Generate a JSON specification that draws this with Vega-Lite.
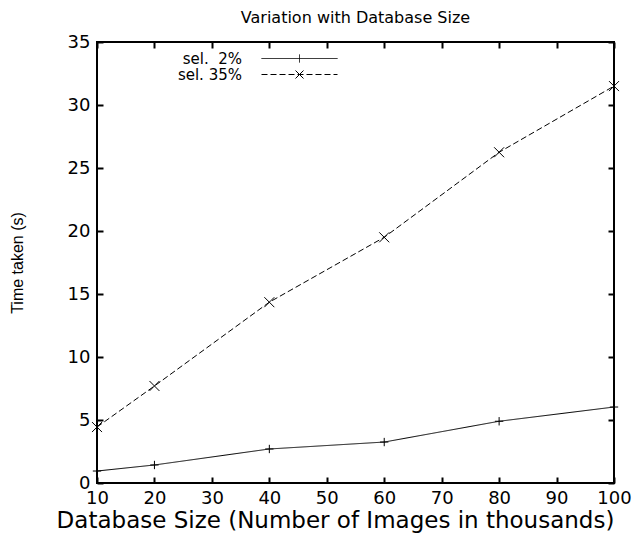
{
  "$schema": "https://vega.github.io/schema/vega-lite/v6.json",
  "width": 517,
  "height": 441,
  "autosize": "none",
  "padding": {"left": 97, "top": 42, "right": 18, "bottom": 51},
  "background": "white",
  "title": {"text": "Variation with Database Size", "font": "DejaVu Sans", "fontSize": 16, "fontWeight": "normal", "color": "black", "offset": 7},
  "data": {"values": [
    {"series": "sel. \u00a02%", "size": 10, "time": 0.95},
    {"series": "sel. \u00a02%", "size": 20, "time": 1.43},
    {"series": "sel. \u00a02%", "size": 40, "time": 2.7},
    {"series": "sel. \u00a02%", "size": 60, "time": 3.25},
    {"series": "sel. \u00a02%", "size": 80, "time": 4.9},
    {"series": "sel. \u00a02%", "size": 100, "time": 6.03},
    {"series": "sel. 35%", "size": 10, "time": 4.44},
    {"series": "sel. 35%", "size": 20, "time": 7.7},
    {"series": "sel. 35%", "size": 40, "time": 14.35},
    {"series": "sel. 35%", "size": 60, "time": 19.5},
    {"series": "sel. 35%", "size": 80, "time": 26.25},
    {"series": "sel. 35%", "size": 100, "time": 31.5}
  ]},
  "config": {
    "view": {"stroke": "black", "strokeWidth": 2},
    "axis": {"domain": false, "grid": false, "tickSize": -6, "tickWidth": 2, "tickColor": "black", "labelFont": "DejaVu Sans", "labelFontSize": 18, "labelColor": "black", "titleColor": "black", "titleFontWeight": "normal", "labelFlush": false},
    "legend": {"orient": "none", "legendX": 195, "legendY": 9, "padding": 0, "labelAlign": "right", "labelOffset": -65, "labelFont": "DejaVu Sans", "labelFontSize": 15, "labelColor": "black", "symbolSize": 100, "symbolStrokeWidth": 1, "symbolStrokeColor": "black", "symbolFillColor": "transparent", "rowPadding": -5}
  },
  "layer": [
    {
      "mark": {"type": "line", "color": "black", "strokeWidth": 1},
      "encoding": {
        "x": {"field": "size", "type": "quantitative", "scale": {"domain": [10, 100], "nice": false, "zero": false},
          "axis": {"orient": "bottom", "values": [10, 20, 30, 40, 50, 60, 70, 80, 90, 100], "title": "Database Size (Number of Images in thousands)", "titleFont": "DejaVu Sans", "titleFontSize": 23, "titleX": 238, "labelPadding": 12, "titlePadding": 2}},
        "y": {"field": "time", "type": "quantitative", "scale": {"domain": [0, 35], "nice": false},
          "axis": {"orient": "left", "values": [0, 5, 10, 15, 20, 25, 30, 35], "title": "Time taken (s)", "titleFont": "Liberation Sans", "titleFontSize": 16, "labelPadding": 13, "titlePadding": 42}},
        "strokeDash": {"field": "series", "type": "nominal", "scale": {"domain": ["sel. \u00a02%", "sel. 35%"], "range": [[1, 0], [6, 3]]},
          "legend": {"title": null, "encode": {"symbols": {"update": {"shape": {"signal": "datum.value === 'sel. 35%' ? 'M-7.6,0L7.6,0M0,0L0.8,0.8M0,0L-0.8,0.8M0,0L0.8,-0.8M0,0L-0.8,-0.8' : 'M-7.6,0L7.6,0M0,-0.8L0,0.8'"}}}}}}
      }
    },
    {
      "transform": [{"filter": "datum.series !== 'sel. 35%'"}],
      "mark": {"type": "point", "shape": "M-1,0H1M0,-1V1", "filled": false, "stroke": "black", "strokeWidth": 1, "size": 70, "opacity": 1},
      "encoding": {
        "x": {"field": "size", "type": "quantitative", "axis": {"orient": "top", "labels": false, "title": null, "values": [10, 20, 30, 40, 50, 60, 70, 80, 90, 100]}},
        "y": {"field": "time", "type": "quantitative", "axis": {"orient": "right", "labels": false, "title": null, "values": [0, 5, 10, 15, 20, 25, 30, 35]}}
      }
    },
    {
      "transform": [{"filter": "datum.series === 'sel. 35%'"}],
      "mark": {"type": "point", "shape": "M-1,-1L1,1M-1,1L1,-1", "filled": false, "stroke": "black", "strokeWidth": 1, "size": 100, "opacity": 1},
      "encoding": {
        "x": {"field": "size", "type": "quantitative", "axis": null},
        "y": {"field": "time", "type": "quantitative", "axis": null}
      }
    }
  ],
  "resolve": {"axis": {"x": "independent", "y": "independent"}}
}
